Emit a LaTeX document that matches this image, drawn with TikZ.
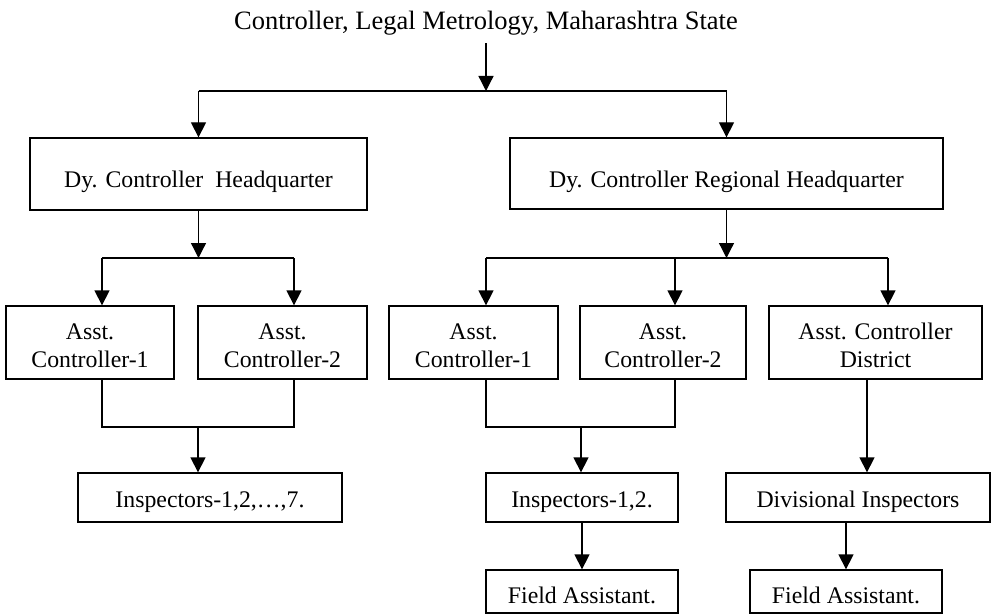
\documentclass[tikz,border=0pt]{standalone}
\usepackage{fontspec}
\setmainfont{Liberation Serif}
\usetikzlibrary{arrows.meta}
\newcommand{\twoline}[2]{\begin{tabular}[t]{@{}c@{}}#1\\#2\end{tabular}}
\begin{document}
\begin{tikzpicture}[x=1pt,y=-1pt,line width=1.3pt,
  box/.style={draw, rectangle, inner sep=0pt, font=\fontsize{23.8}{28}\selectfont},
  onebox/.style={box, text depth=0pt},
  twobox/.style={box, text height=0pt, text depth=7pt},
  arr/.style={-{Triangle[width=15pt,length=15pt]}}]
\useasboundingbox (0,0) rectangle (991,615);
\node[anchor=base, inner sep=7pt, font=\fontsize{26.5}{30}\selectfont] (title) at (486,30) {Controller, Legal Metrology, Maharashtra State};
\node[onebox, text height=28pt, minimum width=337pt, minimum height=72pt] (dch) at (198.5,174) {Dy. Controller\ \ Headquarter};
\node[onebox, text height=28pt, minimum width=433pt, minimum height=71pt] (drh) at (726.5,173.5) {Dy. Controller Regional Headquarter};
\node[twobox, minimum width=168pt, minimum height=73pt] (acl1) at (90,342.5) {\twoline{Asst.}{Controller-1}};
\node[twobox, minimum width=169pt, minimum height=73pt] (acl2) at (282.5,342.5) {\twoline{Asst.}{Controller-2}};
\node[twobox, minimum width=169pt, minimum height=73pt] (acr1) at (473.5,342.5) {\twoline{Asst.}{Controller-1}};
\node[twobox, minimum width=166pt, minimum height=73pt] (acr2) at (663,342.5) {\twoline{Asst.}{Controller-2}};
\node[twobox, minimum width=213pt, minimum height=73pt] (acd) at (875.5,342.5) {\twoline{Asst. Controller}{District}};
\node[onebox, text height=19pt, minimum width=264pt, minimum height=49pt] (insp7) at (210,497.5) {Inspectors-1,2,\dots,7.};
\node[onebox, text height=19pt, minimum width=192pt, minimum height=49pt] (insp12) at (582,497.5) {Inspectors-1,2.};
\node[onebox, text height=19pt, minimum width=264pt, minimum height=49pt] (div) at (858,497.5) {Divisional Inspectors};
\node[onebox, text height=23pt, minimum width=192pt, minimum height=43pt] (fa1) at (582,591.5) {Field Assistant.};
\node[onebox, text height=23pt, minimum width=192pt, minimum height=43pt] (fa2) at (846,591.5) {Field Assistant.};
% top level
\coordinate (j0) at (486,91);
\draw[arr] (title.south) -- (j0);
\draw (dch.north |- j0) -- (drh.north |- j0);
\draw[arr] (dch.north |- j0) -- (dch.north);
\draw[arr] (drh.north |- j0) -- (drh.north);
% left branch
\coordinate (jl) at (198.5,258);
\coordinate (l1) at (102,258);
\coordinate (l2) at (294,258);
\draw[arr] (dch.south) -- (jl);
\draw (l1) -- (l2);
\draw[arr] (l1) -- (l1 |- acl1.north);
\draw[arr] (l2) -- (l2 |- acl2.north);
\coordinate (b1) at (102,427);
\coordinate (b2) at (294,427);
\coordinate (bl) at (198,427);
\draw (b1 |- acl1.south) -- (b1) -- (b2) -- (b2 |- acl2.south);
\draw[arr] (bl) -- (bl |- insp7.north);
% right branch
\coordinate (jr) at (726.5,258);
\coordinate (r1) at (486,258);
\coordinate (r2) at (675,258);
\coordinate (r3) at (888,258);
\draw[arr] (drh.south) -- (jr);
\draw (r1) -- (r3);
\draw[arr] (r1) -- (r1 |- acr1.north);
\draw[arr] (r2) -- (r2 |- acr2.north);
\draw[arr] (r3) -- (r3 |- acd.north);
\coordinate (c1) at (486,427);
\coordinate (c2) at (675,427);
\coordinate (cm) at (581,427);
\draw (c1 |- acr1.south) -- (c1) -- (c2) -- (c2 |- acr2.south);
\draw[arr] (cm) -- (cm |- insp12.north);
\coordinate (d1) at (867,379);
\draw[arr] (d1 |- acd.south) -- (d1 |- div.north);
\draw[arr] (insp12.south) -- (fa1.north);
\draw[arr] (fa2.north |- div.south) -- (fa2.north);
\end{tikzpicture}
\end{document}
